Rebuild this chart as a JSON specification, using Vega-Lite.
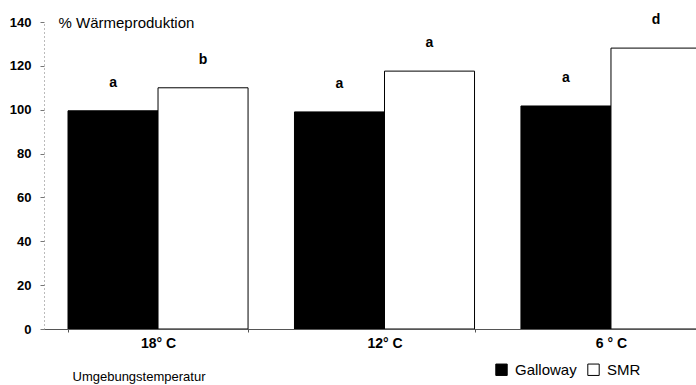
{
  "$schema": "https://vega.github.io/schema/vega-lite/v6.json",
  "autosize": {"type": "none"},
  "width": 652,
  "height": 307,
  "padding": {"left": 44, "top": 22, "right": 0, "bottom": 56},
  "background": "white",
  "config": {
    "view": {"stroke": null},
    "font": "Liberation Sans"
  },
  "data": {
    "values": [
      {"temp": "18° C", "rasse": "Galloway", "value": 99.5, "sig": "a"},
      {"temp": "18° C", "rasse": "SMR", "value": 110, "sig": "b"},
      {"temp": "12° C", "rasse": "Galloway", "value": 99, "sig": "a"},
      {"temp": "12° C", "rasse": "SMR", "value": 117.6, "sig": "a"},
      {"temp": "6 ° C", "rasse": "Galloway", "value": 101.7, "sig": "a"},
      {"temp": "6 ° C", "rasse": "SMR", "value": 128.1, "sig": "d"}
    ]
  },
  "encoding": {
    "x": {
      "field": "temp",
      "type": "nominal",
      "sort": ["18° C", "12° C", "6 ° C"],
      "scale": {"range": [0, 681], "paddingInner": 0.205, "paddingOuter": 0.106},
      "axis": {
        "title": "Umgebungstemperatur",
        "titleFont": "Liberation Sans",
        "titleFontSize": 13,
        "titleFontWeight": "normal",
        "titleColor": "black",
        "titleAnchor": "start",
        "titleAlign": "left",
        "titleBaseline": "middle",
        "titleX": 28,
        "titleY": 47,
        "labelAngle": 0,
        "labelFontSize": 14,
        "labelFontWeight": "bold",
        "labelColor": "black",
        "labelPadding": 4,
        "domainColor": "#555",
        "domainWidth": 1,
        "tickBand": "extent",
        "tickColor": "#555",
        "tickSize": 3
      }
    },
    "xOffset": {
      "field": "rasse",
      "type": "nominal",
      "sort": ["Galloway", "SMR"],
      "scale": {"paddingInner": 0, "paddingOuter": 0}
    },
    "y": {
      "field": "value",
      "type": "quantitative",
      "scale": {"domain": [0, 140], "nice": false},
      "axis": {
        "title": "% Wärmeproduktion",
        "titleAngle": 0,
        "titleX": 14,
        "titleY": 0,
        "titleAlign": "left",
        "titleBaseline": "middle",
        "titleFont": "Liberation Sans",
        "titleFontSize": 15,
        "titleFontWeight": "normal",
        "titleColor": "black",
        "values": [0, 20, 40, 60, 80, 100, 120, 140],
        "labelFontSize": 13,
        "labelFontWeight": "bold",
        "labelColor": "black",
        "labelPadding": 9,
        "grid": false,
        "domainColor": "#777",
        "domainDash": [1, 3],
        "tickColor": "#777",
        "tickSize": 4
      }
    }
  },
  "layer": [
    {
      "mark": {"type": "bar", "stroke": "black", "strokeWidth": 1, "clip": true},
      "encoding": {
        "fill": {
          "field": "rasse",
          "type": "nominal",
          "sort": ["Galloway", "SMR"],
          "scale": {"domain": ["Galloway", "SMR"], "range": ["black", "white"]},
          "legend": {
            "title": null,
            "orient": "none",
            "direction": "horizontal",
            "legendX": 450,
            "legendY": 340,
            "symbolType": "square",
            "symbolSize": 130,
            "symbolStrokeColor": "black",
            "symbolStrokeWidth": 1,
            "labelFontSize": 15,
            "labelColor": "black",
            "labelOffset": 6,
            "columnPadding": 8
          }
        }
      }
    },
    {
      "mark": {"type": "text", "dy": -28, "baseline": "middle", "fontSize": 14, "fontWeight": "bold", "color": "black"},
      "encoding": {
        "text": {"field": "sig", "type": "nominal"}
      }
    }
  ]
}
